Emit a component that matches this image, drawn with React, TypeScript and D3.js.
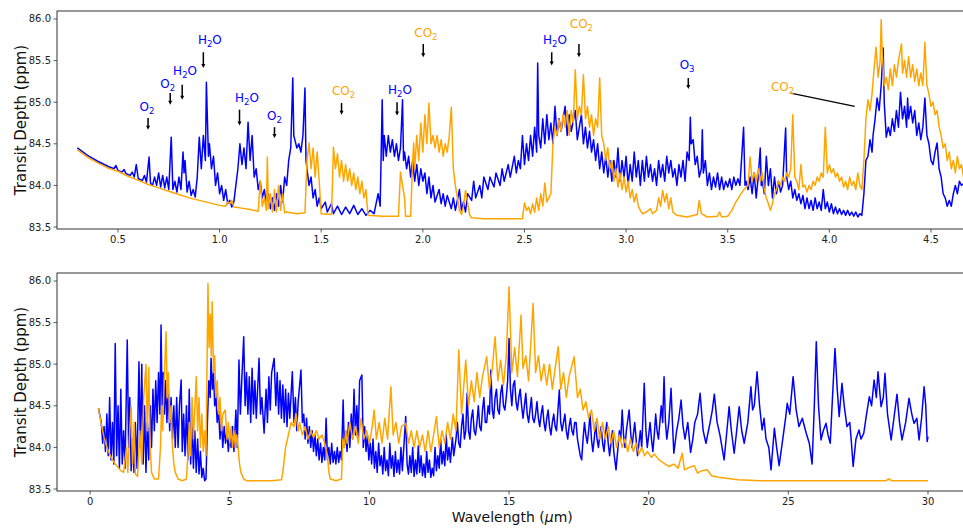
import React from 'react';
import * as d3 from 'd3';

// ---------- data (wavelength in µm, transit depth in ppm) ----------
const topBlue: [number, number][] = [
  [0.30,84.45],[0.35,84.36],[0.40,84.29],[0.45,84.23],[0.48,84.20],[0.49,84.24],[0.50,84.18],[0.52,84.16],[0.53,84.19],[0.54,84.14],[0.56,84.12],[0.57,84.16],[0.58,84.10],[0.59,84.25],[0.60,84.08],[0.62,84.06],[0.63,84.12],[0.64,84.04],[0.653,84.34],[0.66,84.03],[0.67,84.00],[0.68,84.10],[0.69,84.00],[0.70,84.15],[0.71,83.98],[0.72,84.12],[0.73,83.97],[0.74,84.10],[0.75,83.95],[0.762,84.58],[0.77,83.95],[0.78,84.05],[0.79,83.92],[0.80,84.10],[0.81,83.95],[0.82,84.40],[0.825,84.15],[0.83,84.30],[0.84,83.92],[0.85,84.05],[0.86,83.88],[0.87,83.95],[0.88,83.86],[0.89,84.10],[0.90,84.58],[0.91,84.20],[0.92,84.60],[0.93,84.30],[0.935,85.24],[0.945,84.35],[0.95,84.50],[0.96,84.20],[0.97,84.35],[0.98,84.00],[0.99,84.15],[1.00,83.90],[1.01,84.00],[1.02,83.82],[1.03,83.95],[1.04,83.78],[1.05,83.82],[1.06,83.74],[1.07,83.80],[1.08,84.00],[1.09,84.20],[1.10,84.50],[1.11,84.25],[1.12,84.45],[1.13,84.20],[1.14,84.76],[1.15,84.30],[1.16,84.60],[1.17,84.10],[1.18,84.20],[1.19,83.95],[1.20,84.05],[1.21,83.85],[1.22,83.95],[1.23,83.78],[1.24,83.90],[1.25,83.72],[1.26,83.85],[1.27,83.70],[1.28,83.90],[1.29,83.75],[1.30,84.00],[1.31,83.80],[1.32,84.10],[1.33,84.00],[1.34,84.30],[1.35,84.45],[1.36,85.29],[1.365,84.60],[1.37,84.55],[1.38,84.45],[1.39,84.50],[1.40,84.40],[1.41,84.60],[1.42,85.17],[1.425,84.30],[1.43,84.20],[1.44,84.00],[1.45,84.10],[1.46,83.85],[1.47,83.95],[1.48,83.75],[1.49,83.85],[1.50,83.72],[1.52,83.80],[1.53,83.68],[1.55,83.78],[1.56,83.66],[1.58,83.75],[1.60,83.65],[1.62,83.74],[1.64,83.66],[1.66,83.76],[1.68,83.65],[1.70,83.72],[1.72,83.64],[1.74,83.70],[1.76,83.66],[1.78,83.90],[1.79,83.75],[1.80,85.03],[1.805,84.30],[1.81,84.60],[1.82,84.35],[1.83,84.60],[1.84,84.40],[1.85,84.55],[1.86,84.35],[1.87,84.50],[1.88,84.30],[1.89,84.45],[1.90,85.03],[1.905,84.30],[1.91,84.40],[1.92,84.20],[1.93,84.35],[1.94,84.10],[1.95,84.30],[1.96,84.05],[1.97,84.25],[1.98,84.00],[1.99,84.20],[2.00,84.05],[2.01,84.15],[2.02,83.90],[2.03,84.10],[2.04,83.85],[2.05,84.00],[2.06,83.80],[2.08,83.95],[2.09,83.78],[2.10,83.90],[2.11,83.75],[2.12,83.88],[2.14,83.72],[2.15,83.85],[2.16,83.70],[2.18,83.95],[2.19,83.70],[2.20,83.80],[2.21,83.68],[2.22,83.90],[2.24,83.82],[2.25,84.05],[2.26,83.85],[2.28,84.00],[2.29,83.85],[2.30,84.10],[2.32,83.95],[2.33,84.10],[2.35,83.98],[2.36,84.15],[2.38,84.00],[2.39,84.20],[2.40,84.05],[2.42,84.25],[2.43,84.10],[2.45,84.35],[2.46,84.15],[2.47,84.30],[2.48,84.20],[2.49,84.60],[2.50,84.25],[2.51,84.50],[2.52,84.30],[2.53,84.60],[2.54,84.35],[2.55,84.70],[2.56,84.40],[2.565,85.47],[2.57,84.60],[2.58,84.45],[2.59,84.80],[2.60,84.50],[2.61,84.85],[2.62,84.55],[2.63,84.75],[2.64,84.50],[2.65,84.95],[2.66,84.60],[2.67,84.80],[2.68,84.65],[2.70,84.95],[2.71,84.60],[2.72,84.85],[2.73,84.65],[2.75,84.90],[2.76,84.55],[2.78,84.85],[2.79,84.50],[2.80,84.70],[2.81,84.45],[2.82,84.65],[2.83,84.40],[2.84,84.55],[2.85,84.30],[2.86,84.50],[2.87,84.20],[2.88,84.40],[2.89,84.15],[2.90,84.35],[2.91,84.10],[2.92,84.30],[2.93,84.05],[2.94,84.30],[2.95,84.10],[2.96,84.45],[2.97,84.05],[2.98,84.30],[2.99,84.10],[3.00,84.35],[3.01,84.00],[3.02,84.25],[3.03,84.05],[3.04,84.40],[3.05,84.10],[3.06,84.30],[3.07,84.00],[3.08,84.30],[3.09,84.05],[3.10,84.35],[3.11,84.10],[3.12,84.25],[3.13,84.05],[3.14,84.20],[3.15,84.00],[3.16,84.30],[3.17,84.10],[3.18,84.25],[3.19,84.05],[3.20,84.35],[3.21,84.15],[3.22,84.30],[3.23,84.10],[3.24,84.20],[3.25,84.00],[3.26,84.25],[3.27,84.10],[3.28,84.30],[3.29,84.05],[3.30,84.40],[3.31,84.30],[3.316,84.82],[3.32,84.50],[3.33,84.55],[3.34,84.25],[3.35,84.35],[3.36,84.10],[3.37,84.20],[3.375,84.67],[3.38,84.15],[3.39,84.30],[3.40,84.00],[3.41,84.15],[3.42,83.95],[3.43,84.10],[3.44,83.98],[3.45,84.15],[3.46,83.95],[3.47,84.10],[3.48,83.95],[3.49,84.05],[3.50,83.98],[3.51,84.08],[3.52,83.95],[3.53,84.10],[3.54,84.00],[3.55,84.08],[3.56,84.00],[3.578,84.70],[3.585,84.00],[3.59,84.05],[3.60,83.95],[3.61,84.10],[3.62,83.90],[3.63,84.15],[3.64,83.85],[3.65,84.10],[3.66,84.45],[3.665,84.00],[3.67,84.05],[3.68,83.90],[3.69,84.35],[3.70,84.00],[3.71,84.20],[3.72,83.85],[3.73,84.10],[3.74,83.90],[3.75,84.05],[3.76,83.92],[3.77,84.00],[3.785,84.69],[3.79,84.10],[3.80,83.95],[3.81,84.05],[3.82,83.85],[3.83,83.95],[3.84,83.82],[3.85,83.90],[3.86,83.78],[3.87,83.88],[3.88,83.72],[3.89,83.85],[3.90,83.72],[3.91,83.82],[3.92,83.70],[3.93,83.85],[3.94,83.72],[3.95,83.80],[3.96,83.70],[3.97,83.95],[3.98,83.72],[3.99,83.80],[4.00,83.68],[4.01,83.78],[4.02,83.66],[4.03,83.74],[4.04,83.66],[4.05,83.72],[4.06,83.65],[4.07,83.70],[4.08,83.64],[4.09,83.70],[4.10,83.64],[4.11,83.68],[4.12,83.63],[4.13,83.68],[4.14,83.62],[4.15,83.66],[4.16,83.64],[4.17,83.90],[4.18,84.30],[4.19,84.35],[4.20,84.55],[4.21,84.40],[4.215,84.60],[4.225,84.80],[4.235,85.05],[4.245,84.90],[4.255,85.20],[4.265,85.65],[4.27,85.00],[4.28,84.58],[4.29,84.70],[4.30,84.60],[4.31,84.80],[4.32,84.65],[4.33,84.90],[4.34,84.70],[4.35,85.12],[4.36,84.80],[4.37,84.95],[4.38,84.70],[4.385,85.05],[4.39,84.80],[4.40,84.95],[4.41,84.75],[4.42,84.90],[4.43,84.60],[4.44,84.75],[4.45,84.55],[4.46,84.70],[4.47,85.05],[4.48,84.60],[4.49,84.50],[4.50,84.30],[4.51,84.25],[4.52,84.40],[4.53,84.51],[4.54,84.20],[4.55,84.10],[4.56,83.90],[4.57,83.85],[4.58,83.75],[4.59,83.82],[4.60,83.75],[4.61,83.90],[4.62,84.00],[4.63,83.90],[4.64,84.05],[4.65,84.00],[4.66,84.02],[4.67,83.95]
];

const topOrange: [number, number][] = [
  [0.30,84.43],[0.35,84.34],[0.40,84.27],[0.45,84.21],[0.50,84.17],[0.55,84.11],[0.60,84.06],[0.65,84.01],[0.70,83.97],[0.75,83.93],[0.80,83.89],[0.85,83.85],[0.90,83.82],[0.95,83.79],[1.00,83.76],[1.03,83.75],[1.04,83.80],[1.05,83.78],[1.06,83.82],[1.07,83.74],[1.10,83.73],[1.15,83.71],[1.19,83.69],[1.20,84.05],[1.21,83.75],[1.22,83.85],[1.23,83.70],[1.235,84.34],[1.24,83.72],[1.25,83.90],[1.26,83.68],[1.27,83.95],[1.28,83.68],[1.29,84.00],[1.30,83.70],[1.31,83.90],[1.32,83.67],[1.33,83.68],[1.38,83.66],[1.42,83.67],[1.43,84.30],[1.44,84.51],[1.45,84.20],[1.46,84.45],[1.47,84.10],[1.48,84.40],[1.49,84.05],[1.50,83.66],[1.55,83.65],[1.555,84.00],[1.56,84.46],[1.57,84.20],[1.58,84.38],[1.59,84.10],[1.60,84.30],[1.61,84.05],[1.62,84.25],[1.63,84.05],[1.64,84.20],[1.65,84.00],[1.66,84.15],[1.67,83.95],[1.68,84.10],[1.69,83.90],[1.70,84.05],[1.71,83.85],[1.72,83.95],[1.73,83.64],[1.80,83.63],[1.88,83.63],[1.885,83.90],[1.89,84.16],[1.90,84.00],[1.91,83.85],[1.915,83.63],[1.94,83.63],[1.95,84.30],[1.955,84.51],[1.96,84.20],[1.97,84.60],[1.98,84.30],[1.99,84.75],[2.00,84.40],[2.01,84.85],[2.02,84.50],[2.03,84.99],[2.04,84.50],[2.05,84.60],[2.06,84.45],[2.07,84.60],[2.08,84.40],[2.09,84.55],[2.10,84.35],[2.11,84.50],[2.12,84.40],[2.13,84.60],[2.14,84.94],[2.15,84.20],[2.16,84.00],[2.17,83.85],[2.18,83.70],[2.19,83.65],[2.20,83.75],[2.21,83.94],[2.22,83.80],[2.23,83.65],[2.24,83.61],[2.30,83.60],[2.40,83.60],[2.49,83.60],[2.50,83.79],[2.51,83.70],[2.52,83.74],[2.53,83.66],[2.54,83.78],[2.55,83.68],[2.56,83.85],[2.57,83.70],[2.58,83.90],[2.59,83.75],[2.60,84.03],[2.61,83.80],[2.62,83.85],[2.63,83.90],[2.64,84.50],[2.65,84.70],[2.66,84.60],[2.67,84.79],[2.68,84.65],[2.69,84.85],[2.70,84.70],[2.71,84.90],[2.72,84.60],[2.73,84.90],[2.74,84.75],[2.75,85.39],[2.76,84.80],[2.77,84.95],[2.78,84.85],[2.79,85.33],[2.80,84.80],[2.81,84.95],[2.82,84.70],[2.83,84.85],[2.84,84.60],[2.85,84.80],[2.86,84.70],[2.87,85.29],[2.88,84.60],[2.89,84.50],[2.90,84.30],[2.91,84.45],[2.92,84.20],[2.93,84.30],[2.94,84.05],[2.95,84.20],[2.96,83.98],[2.97,84.15],[2.98,83.95],[2.99,84.10],[3.00,83.92],[3.01,84.05],[3.02,83.85],[3.03,83.95],[3.04,83.80],[3.05,83.90],[3.06,83.75],[3.07,83.70],[3.08,83.66],[3.10,83.68],[3.12,83.72],[3.13,83.66],[3.15,83.70],[3.16,83.85],[3.17,83.75],[3.18,83.94],[3.19,83.80],[3.20,83.90],[3.21,83.72],[3.22,83.85],[3.23,83.68],[3.25,83.64],[3.30,83.62],[3.35,83.65],[3.36,83.82],[3.37,83.66],[3.40,83.62],[3.45,83.63],[3.46,83.68],[3.47,83.62],[3.50,83.63],[3.52,83.70],[3.54,83.80],[3.56,83.88],[3.58,83.95],[3.60,84.00],[3.61,84.34],[3.62,84.05],[3.63,84.15],[3.64,84.05],[3.65,84.20],[3.66,84.05],[3.67,84.15],[3.68,83.95],[3.69,83.85],[3.70,83.78],[3.71,83.70],[3.72,83.78],[3.73,83.90],[3.74,83.95],[3.75,84.05],[3.76,84.00],[3.77,84.10],[3.78,84.05],[3.79,84.15],[3.80,84.10],[3.81,84.20],[3.82,84.85],[3.83,84.10],[3.84,84.05],[3.85,83.95],[3.86,84.25],[3.87,83.98],[3.88,84.00],[3.89,83.92],[3.90,84.00],[3.91,83.95],[3.92,84.05],[3.93,84.00],[3.94,84.10],[3.95,84.05],[3.96,84.15],[3.97,84.10],[3.98,84.70],[3.99,84.15],[4.00,84.25],[4.01,84.15],[4.02,84.20],[4.03,84.10],[4.04,84.15],[4.05,84.05],[4.06,84.10],[4.07,83.98],[4.08,84.05],[4.09,83.95],[4.10,84.10],[4.11,84.00],[4.12,84.05],[4.13,83.95],[4.14,84.15],[4.15,84.00],[4.16,83.95],[4.17,84.30],[4.18,84.80],[4.19,85.03],[4.20,84.90],[4.21,85.10],[4.22,85.40],[4.23,85.66],[4.24,85.30],[4.25,85.50],[4.255,85.99],[4.26,85.60],[4.27,85.20],[4.28,85.30],[4.29,85.15],[4.30,85.40],[4.31,85.20],[4.32,85.45],[4.33,85.30],[4.34,85.50],[4.355,85.70],[4.36,85.35],[4.37,85.50],[4.38,85.30],[4.39,85.55],[4.40,85.30],[4.41,85.45],[4.42,85.25],[4.43,85.40],[4.44,85.20],[4.45,85.35],[4.46,85.20],[4.47,85.72],[4.48,85.20],[4.49,85.10],[4.50,84.95],[4.51,85.00],[4.52,84.85],[4.53,84.90],[4.54,84.70],[4.55,84.60],[4.56,84.45],[4.57,84.50],[4.58,84.30],[4.59,84.40],[4.60,84.20],[4.61,84.30],[4.62,84.15],[4.63,84.35],[4.64,84.20],[4.65,84.25],[4.66,84.10],[4.67,84.15]
];

const bottomBlue: [number, number][] = [
  [0.30,84.47],[0.40,84.30],[0.45,84.05],[0.50,84.25],[0.55,83.95],[0.60,84.40],[0.65,83.90],[0.70,84.60],[0.75,83.85],[0.80,84.30],[0.85,83.80],[0.90,85.25],[0.95,83.90],[1.00,84.50],[1.05,83.75],[1.10,84.70],[1.15,83.80],[1.20,84.20],[1.25,83.75],[1.33,85.29],[1.38,84.00],[1.42,84.60],[1.47,83.72],[1.52,84.10],[1.57,83.70],[1.62,84.30],[1.68,83.75],[1.75,85.03],[1.80,84.00],[1.85,85.00],[1.90,83.80],[1.95,84.50],[2.00,83.70],[2.05,84.30],[2.10,83.85],[2.15,84.50],[2.20,84.00],[2.25,84.70],[2.30,84.20],[2.35,84.80],[2.40,84.30],[2.45,84.90],[2.50,84.40],[2.54,85.47],[2.58,84.50],[2.62,84.90],[2.66,84.40],[2.70,84.80],[2.75,84.30],[2.80,84.70],[2.85,84.20],[2.90,84.60],[2.95,84.10],[3.00,84.50],[3.05,84.00],[3.10,84.60],[3.15,84.00],[3.20,84.50],[3.26,84.81],[3.30,83.95],[3.35,84.40],[3.40,83.90],[3.45,84.50],[3.50,83.85],[3.55,84.70],[3.60,83.80],[3.65,84.30],[3.70,83.75],[3.75,84.20],[3.80,83.70],[3.85,84.10],[3.90,83.68],[3.95,83.95],[4.00,83.64],[4.05,83.75],[4.10,83.60],[4.15,83.62],[4.20,84.30],[4.25,84.80],[4.30,84.60],[4.33,85.07],[4.38,84.70],[4.42,84.90],[4.46,84.50],[4.50,84.65],[4.55,84.30],[4.60,84.45],[4.65,84.10],[4.70,84.35],[4.75,84.00],[4.80,84.25],[4.85,84.05],[4.90,84.20],[4.95,83.95],[5.00,84.15],[5.05,84.00],[5.10,84.25],[5.15,83.95],[5.22,84.45],[5.27,84.00],[5.33,85.05],[5.38,84.40],[5.43,84.80],[5.50,85.33],[5.55,84.50],[5.60,84.90],[5.65,84.40],[5.70,84.85],[5.75,84.30],[5.80,84.95],[5.85,84.40],[5.90,84.80],[5.95,84.35],[6.05,85.07],[6.10,84.40],[6.15,84.60],[6.23,84.17],[6.30,84.70],[6.35,84.30],[6.40,84.85],[6.45,84.45],[6.50,84.90],[6.59,85.07],[6.65,84.50],[6.70,84.90],[6.75,84.40],[6.80,84.80],[6.85,84.35],[6.90,84.75],[6.95,84.30],[7.00,84.70],[7.05,84.25],[7.10,84.65],[7.15,84.35],[7.24,84.91],[7.30,84.30],[7.35,84.60],[7.40,84.20],[7.45,84.55],[7.55,84.93],[7.60,84.30],[7.65,84.40],[7.70,84.10],[7.75,84.35],[7.80,84.05],[7.85,84.25],[7.90,84.00],[7.95,84.20],[8.00,83.95],[8.05,84.15],[8.10,83.90],[8.15,84.10],[8.20,83.85],[8.25,84.05],[8.30,83.82],[8.35,84.00],[8.40,83.85],[8.45,84.35],[8.50,83.85],[8.55,84.00],[8.60,83.80],[8.65,84.05],[8.70,83.82],[8.75,83.95],[8.80,83.80],[8.85,84.00],[8.90,83.82],[8.95,83.95],[9.00,83.85],[9.06,84.57],[9.10,84.00],[9.15,84.20],[9.20,83.95],[9.25,84.30],[9.30,84.00],[9.35,84.40],[9.40,84.10],[9.45,84.70],[9.50,84.15],[9.55,84.50],[9.60,84.10],[9.65,84.80],[9.73,84.87],[9.78,84.00],[9.83,84.25],[9.88,83.95],[9.93,84.15],[9.98,83.85],[10.03,84.05],[10.08,83.80],[10.13,84.10],[10.18,83.75],[10.23,83.95],[10.28,83.70],[10.33,84.05],[10.38,83.78],[10.43,83.90],[10.48,83.68],[10.53,84.00],[10.58,83.72],[10.63,83.85],[10.68,83.66],[10.73,84.05],[10.78,83.75],[10.83,83.90],[10.88,83.65],[10.93,83.95],[10.98,83.70],[11.03,83.85],[11.08,83.68],[11.13,84.00],[11.18,83.72],[11.25,84.10],[11.30,84.37],[11.35,83.80],[11.40,83.68],[11.45,83.90],[11.50,83.70],[11.55,84.00],[11.60,83.65],[11.65,83.85],[11.70,83.68],[11.75,84.02],[11.80,83.70],[11.85,83.90],[11.90,83.66],[11.95,83.80],[12.00,83.64],[12.05,83.95],[12.10,83.70],[12.15,83.85],[12.20,83.64],[12.25,83.75],[12.30,83.66],[12.35,84.00],[12.40,83.72],[12.45,83.90],[12.50,83.75],[12.55,84.10],[12.60,83.80],[12.65,83.95],[12.70,83.78],[12.75,84.15],[12.80,83.85],[12.85,84.00],[12.90,83.82],[12.97,84.12],[13.02,83.90],[13.10,84.10],[13.15,84.30],[13.20,84.05],[13.25,84.00],[13.30,84.25],[13.35,84.40],[13.40,84.10],[13.45,84.20],[13.50,84.65],[13.55,84.20],[13.60,84.10],[13.65,84.35],[13.70,84.45],[13.75,84.20],[13.80,84.15],[13.85,84.30],[13.90,84.50],[13.95,84.25],[14.00,84.20],[14.05,84.45],[14.10,84.60],[14.15,84.30],[14.20,84.30],[14.25,84.50],[14.30,84.40],[14.35,84.93],[14.40,84.45],[14.45,84.35],[14.50,84.60],[14.55,84.70],[14.60,84.45],[14.65,84.40],[14.70,84.65],[14.75,84.75],[14.80,84.50],[14.85,84.45],[14.90,84.60],[14.95,84.80],[15.00,85.31],[15.05,84.70],[15.10,84.50],[15.15,84.75],[15.20,84.80],[15.25,84.55],[15.30,84.45],[15.35,84.60],[15.40,84.70],[15.45,84.50],[15.50,84.35],[15.55,84.50],[15.60,84.65],[15.65,84.40],[15.70,84.30],[15.75,84.45],[15.80,84.60],[15.85,84.35],[15.90,84.30],[15.95,84.40],[16.00,84.55],[16.05,84.35],[16.10,84.25],[16.15,84.40],[16.20,84.50],[16.25,84.30],[16.30,84.20],[16.35,84.35],[16.40,84.45],[16.45,84.25],[16.50,84.15],[16.55,84.30],[16.60,84.40],[16.65,84.25],[16.70,84.20],[16.80,84.69],[16.85,84.30],[16.90,84.20],[16.95,84.30],[17.00,84.40],[17.05,84.20],[17.10,84.10],[17.15,84.25],[17.20,84.35],[17.25,84.20],[17.30,84.15],[17.35,84.30],[17.40,84.30],[17.45,84.10],[17.50,84.00],[17.55,83.90],[17.60,83.85],[17.65,84.10],[17.70,84.30],[17.75,84.15],[17.80,84.05],[17.85,84.20],[17.90,84.40],[17.95,84.10],[18.00,83.95],[18.05,84.10],[18.10,84.30],[18.15,84.10],[18.20,84.00],[18.25,84.15],[18.30,84.25],[18.35,84.05],[18.40,83.95],[18.45,84.15],[18.50,84.30],[18.55,84.05],[18.60,83.90],[18.65,84.05],[18.70,84.20],[18.75,83.95],[18.83,83.73],[18.90,84.00],[18.95,84.20],[19.00,84.10],[19.05,84.45],[19.10,84.15],[19.15,84.00],[19.20,84.20],[19.30,84.45],[19.35,84.20],[19.40,84.00],[19.45,84.15],[19.50,84.30],[19.55,84.10],[19.60,83.90],[19.65,84.05],[19.70,84.20],[19.75,84.00],[19.84,84.77],[19.90,84.20],[19.95,84.00],[20.00,84.15],[20.05,84.30],[20.10,84.10],[20.15,83.95],[20.20,84.15],[20.25,84.40],[20.30,84.20],[20.35,84.10],[20.40,84.30],[20.45,84.50],[20.50,84.30],[20.55,84.85],[20.60,84.30],[20.65,84.10],[20.72,84.30],[20.8,84.71],[20.85,84.30],[20.9,83.93],[21.0,84.20],[21.08,84.35],[21.16,84.57],[21.23,84.25],[21.3,84.10],[21.4,84.30],[21.5,83.94],[21.58,84.10],[21.65,84.30],[21.75,84.40],[21.84,84.65],[21.95,84.20],[22.05,84.05],[22.2,84.30],[22.28,84.45],[22.35,84.64],[22.45,84.30],[22.55,84.15],[22.7,83.85],[22.8,84.20],[22.88,84.49],[22.96,84.20],[23.06,83.93],[23.15,84.20],[23.24,84.49],[23.33,84.20],[23.42,84.05],[23.55,84.30],[23.66,84.73],[23.72,84.45],[23.78,84.50],[23.88,84.91],[23.97,84.50],[24.06,84.21],[24.13,84.35],[24.2,84.10],[24.3,84.00],[24.38,83.73],[24.5,84.23],[24.58,84.00],[24.67,83.78],[24.8,84.10],[24.9,84.35],[24.96,84.53],[25.05,84.40],[25.17,84.85],[25.28,84.45],[25.38,84.25],[25.5,84.35],[25.64,84.17],[25.75,84.05],[25.85,83.80],[25.93,84.50],[26.0,85.27],[26.08,84.50],[26.17,84.09],[26.25,84.20],[26.35,84.29],[26.42,84.15],[26.5,84.05],[26.58,84.60],[26.67,85.19],[26.75,84.70],[26.82,84.37],[26.92,84.77],[27.0,84.50],[27.1,84.25],[27.2,84.30],[27.26,84.05],[27.32,83.77],[27.42,84.10],[27.53,84.21],[27.6,84.10],[27.7,84.17],[27.8,84.40],[27.9,84.61],[27.98,84.50],[28.07,84.81],[28.15,84.60],[28.21,84.91],[28.32,84.49],[28.4,84.60],[28.46,84.89],[28.55,84.40],[28.68,84.09],[28.78,84.35],[28.89,84.64],[28.98,84.30],[29.07,84.09],[29.2,84.30],[29.32,84.59],[29.42,84.40],[29.5,84.29],[29.6,84.35],[29.68,84.09],[29.77,84.35],[29.86,84.73],[29.92,84.50],[29.97,84.07],[30.0,84.13]
];

const bottomOrange: [number, number][] = [
  [0.30,84.47],[0.40,84.28],[0.50,84.12],[0.60,84.00],[0.70,83.92],[0.80,83.85],[0.90,83.80],[1.00,83.76],[1.10,83.72],[1.20,83.70],[1.30,84.00],[1.35,83.70],[1.42,84.20],[1.47,84.49],[1.52,83.80],[1.58,84.30],[1.62,83.68],[1.70,83.65],[1.78,84.20],[1.85,83.80],[1.92,84.60],[2.00,85.00],[2.05,84.20],[2.10,84.96],[2.15,84.00],[2.20,83.70],[2.30,83.62],[2.45,83.62],[2.52,84.00],[2.56,84.50],[2.60,84.20],[2.65,84.80],[2.72,85.39],[2.76,84.60],[2.80,84.90],[2.85,84.30],[2.90,84.50],[2.95,84.00],[3.00,83.80],[3.05,83.70],[3.15,83.62],[3.30,83.60],[3.45,83.62],[3.50,83.90],[3.55,84.30],[3.60,83.90],[3.65,84.60],[3.70,84.10],[3.80,84.85],[3.85,84.20],[3.90,84.60],[3.95,84.00],[4.00,84.40],[4.05,83.95],[4.10,84.20],[4.15,83.90],[4.18,84.80],[4.22,85.97],[4.26,85.20],[4.30,85.60],[4.34,85.10],[4.37,85.75],[4.42,84.90],[4.46,85.10],[4.50,84.60],[4.55,84.80],[4.60,84.40],[4.65,84.60],[4.70,84.20],[4.75,84.40],[4.84,84.45],[4.90,84.10],[4.95,84.30],[5.00,84.05],[5.05,84.25],[5.10,84.00],[5.15,84.20],[5.20,84.00],[5.25,84.15],[5.30,84.00],[5.35,83.80],[5.40,83.70],[5.50,83.62],[5.60,83.60],[6.50,83.60],[6.85,83.61],[6.90,83.70],[6.95,83.85],[7.00,84.00],[7.10,84.15],[7.20,84.30],[7.30,84.25],[7.37,84.41],[7.45,84.20],[7.50,84.30],[7.60,84.15],[7.70,84.25],[7.80,84.10],[7.90,84.20],[8.00,84.12],[8.10,84.20],[8.20,84.10],[8.30,84.15],[8.40,84.05],[8.50,83.90],[8.55,83.70],[8.60,83.62],[8.80,83.60],[9.00,83.62],[9.05,84.10],[9.10,84.00],[9.15,84.20],[9.20,84.05],[9.30,84.30],[9.40,84.10],[9.50,84.25],[9.60,84.05],[9.70,84.35],[9.80,84.10],[9.90,84.20],[10.0,84.05],[10.1,84.25],[10.17,84.45],[10.25,84.10],[10.35,84.30],[10.45,84.05],[10.55,84.35],[10.65,84.10],[10.77,84.73],[10.85,84.15],[10.95,84.30],[11.05,84.05],[11.15,84.25],[11.3,84.29],[11.4,84.05],[11.5,84.20],[11.6,84.00],[11.7,84.20],[11.8,84.00],[11.9,84.15],[12.0,83.95],[12.1,84.20],[12.2,83.95],[12.3,84.15],[12.4,84.37],[12.5,84.00],[12.6,84.20],[12.7,84.05],[12.8,84.30],[12.9,84.10],[13.0,84.40],[13.1,84.20],[13.2,85.17],[13.3,84.40],[13.45,85.05],[13.55,84.50],[13.65,84.80],[13.75,84.55],[13.85,84.90],[13.95,84.60],[14.05,84.85],[14.2,85.09],[14.3,84.70],[14.4,84.95],[14.5,85.33],[14.6,84.80],[14.7,85.05],[14.8,84.75],[14.9,85.10],[15.0,85.93],[15.1,84.90],[15.2,85.20],[15.3,84.85],[15.43,85.59],[15.5,84.95],[15.6,85.10],[15.7,84.80],[15.86,85.73],[15.95,84.90],[16.05,85.10],[16.15,84.80],[16.25,85.00],[16.35,84.75],[16.45,85.00],[16.55,84.70],[16.65,84.95],[16.76,85.21],[16.85,84.70],[16.95,84.90],[17.05,84.60],[17.15,84.85],[17.33,85.09],[17.45,84.60],[17.55,84.70],[17.65,84.45],[17.75,84.55],[17.85,84.35],[17.95,84.45],[18.05,84.20],[18.15,84.35],[18.25,84.10],[18.35,84.30],[18.45,84.10],[18.55,84.25],[18.65,84.05],[18.75,84.20],[18.85,84.00],[18.95,84.15],[19.05,84.00],[19.15,84.10],[19.25,83.95],[19.35,84.10],[19.45,83.95],[19.55,84.05],[19.65,83.92],[19.75,84.00],[19.85,83.90],[19.95,83.95],[20.1,83.88],[20.2,83.92],[20.37,83.85],[20.5,83.82],[20.73,83.77],[20.9,83.80],[21.05,83.75],[21.2,83.93],[21.28,83.73],[21.45,83.76],[21.63,83.78],[21.75,83.69],[21.9,83.72],[22.1,83.73],[22.25,83.66],[22.5,83.64],[22.77,83.63],[23.2,83.61],[24.0,83.60],[25.0,83.60],[28.5,83.60],[28.6,83.62],[28.7,83.60],[30.0,83.60]
];

const topXTicks = [0.5, 1.0, 1.5, 2.0, 2.5, 3.0, 3.5, 4.0, 4.5];
const bottomXTicks = [0, 5, 10, 15, 20, 25, 30];
const yTicks = [83.5, 84.0, 84.5, 85.0, 85.5, 86.0];

// molecule labels: [prefix, subscript, suffix]
const annLabels: [string, string, string][] = [
  ['O', '2', ''], ['O', '2', ''], ['H', '2', 'O'], ['H', '2', 'O'], ['H', '2', 'O'], ['O', '2', ''],
  ['CO', '2', ''], ['H', '2', 'O'], ['CO', '2', ''], ['H', '2', 'O'], ['CO', '2', ''], ['O', '3', ''],
];
const annColors = ['blue', 'blue', 'blue', 'blue', 'blue', 'blue', 'orange', 'blue', 'orange', 'blue', 'orange', 'blue'];
// arrow x (µm), arrow top, arrow tip (ppm), label x, label y
const annArrowX = [0.648, 0.757, 0.816, 0.92, 1.098, 1.27, 1.60, 1.873, 2.002, 2.634, 2.768, 3.306];
const annArrowTop = [84.81, 85.11, 85.21, 85.60, 84.91, 84.70, 84.99, 85.00, 85.70, 85.60, 85.70, 85.29];
const annArrowTip = [84.67, 84.97, 85.03, 85.41, 84.72, 84.57, 84.85, 84.84, 85.54, 85.44, 85.54, 85.16];
const annLabelX = [0.643, 0.745, 0.83, 0.952, 1.135, 1.27, 1.61, 1.887, 2.015, 2.65, 2.78, 3.30];
const annLabelY = [84.94, 85.22, 85.37, 85.75, 85.05, 84.83, 85.13, 85.15, 85.83, 85.75, 85.94, 85.45];
// the CO2 pointer line at 4.3 µm
const co2Line: [number, number][] = [[3.81, 85.11], [4.125, 84.95]];
const co2LineLabel: [number, number] = [3.77, 85.18];

const W = 963, H = 529;
const FONT = '"DejaVu Sans", sans-serif';

type PanelProps = {
  top: number; bottom: number;
  xDomain: [number, number]; xRange: [number, number];
  xTicks: number[]; fmt: (v: number) => string;
  blue: [number, number][]; orange: [number, number][];
  id: string; annotate?: boolean; xlabel?: boolean;
};

function Panel(p: PanelProps) {
  const x = d3.scaleLinear().domain(p.xDomain).range(p.xRange);
  const y = d3.scaleLinear().domain([83.476, 86.096]).range([p.bottom, p.top]);
  const line = d3.line<[number, number]>().x(d => x(d[0])).y(d => y(d[1]));
  const left = p.xRange[0], right = p.xRange[1];
  return (
    <g>
      <defs>
        <clipPath id={p.id}>
          <rect x={left} y={p.top} width={right - left} height={p.bottom - p.top} />
        </clipPath>
      </defs>
      <g clipPath={`url(#${p.id})`}>
        <path d={line(p.blue) || ''} fill="none" stroke="#0000ff" strokeWidth={1.5} strokeLinejoin="round" />
        <path d={line(p.orange) || ''} fill="none" stroke="#ffa500" strokeWidth={1.5} strokeLinejoin="round" />
      </g>
      <rect x={left} y={p.top} width={right - left} height={p.bottom - p.top} fill="none" stroke="#333" strokeWidth={1} />
      {p.xTicks.map(t => (
        <g key={'x' + t}>
          <line x1={x(t)} x2={x(t)} y1={p.bottom} y2={p.bottom + 3.5} stroke="#333" strokeWidth={0.8} />
          <text x={x(t)} y={p.bottom + 13.5} textAnchor="middle" fontSize={10} fontFamily={FONT} fill="#222">{p.fmt(t)}</text>
        </g>
      ))}
      {yTicks.map(t => (
        <g key={'y' + t}>
          <line x1={left - 3.5} x2={left} y1={y(t)} y2={y(t)} stroke="#333" strokeWidth={0.8} />
          <text x={left - 6} y={y(t) + 3.5} textAnchor="end" fontSize={10} fontFamily={FONT} fill="#222">{t.toFixed(1)}</text>
        </g>
      ))}
      <text transform={`translate(21,${(p.top + p.bottom) / 2}) rotate(-90)`} textAnchor="middle" dominantBaseline="central" fontSize={15} fontFamily={FONT} fill="#111">Transit Depth (ppm)</text>
      {p.xlabel && (
        <text x={(left + right) / 2 - 1} y={522} textAnchor="middle" fontSize={14} fontFamily={FONT} fill="#111">Wavelength (<tspan fontStyle="italic">μ</tspan>m)</text>
      )}
      {p.annotate && annLabels.map((lab, i) => {
        const ax = x(annArrowX[i]);
        const y1 = y(annArrowTop[i]);
        const y2 = y(annArrowTip[i]);
        const col = annColors[i] === 'blue' ? '#0000ff' : '#ffa500';
        return (
          <g key={'a' + i}>
            <line x1={ax} x2={ax} y1={y1} y2={y2 - 3} stroke="#000" strokeWidth={1.5} />
            <path d={`M${ax - 2},${y2 - 4} L${ax + 2},${y2 - 4} L${ax},${y2} Z`} fill="#000" />
            <text x={x(annLabelX[i])} y={y(annLabelY[i]) + 4} textAnchor="middle" fontSize={12} fontFamily={FONT} fill={col}>
              {lab[0]}<tspan fontSize={8.5} dy={3}>{lab[1]}</tspan>{lab[2] ? <tspan dy={-3}>{lab[2]}</tspan> : null}
            </text>
          </g>
        );
      })}
      {p.annotate && (
        <g>
          <line x1={x(co2Line[0][0])} y1={y(co2Line[0][1])} x2={x(co2Line[1][0])} y2={y(co2Line[1][1])} stroke="#000" strokeWidth={1.2} />
          <text x={x(co2LineLabel[0])} y={y(co2LineLabel[1]) + 4} textAnchor="middle" fontSize={12} fontFamily={FONT} fill="#ffa500">
            CO<tspan fontSize={8.5} dy={3}>2</tspan>
          </text>
        </g>
      )}
    </g>
  );
}

export default function App() {
  return (
    <svg width={W} height={H} style={{ position: 'absolute', left: 0, top: 0, background: '#fff' }}>
      <rect x={0} y={0} width={W} height={H} fill="#fff" />
      <Panel top={11} bottom={229} xDomain={[0.2, 4.7]} xRange={[57, 57 + 4.5 * 203.25]}
        xTicks={topXTicks} fmt={v => v.toFixed(1)} blue={topBlue} orange={topOrange} id="clipTop" annotate />
      <Panel top={273} bottom={491} xDomain={[-1.185, 31.485]} xRange={[57, 57 + 32.67 * 27.93]}
        xTicks={bottomXTicks} fmt={v => String(v)} blue={bottomBlue} orange={bottomOrange} id="clipBottom" xlabel />
    </svg>
  );
}
